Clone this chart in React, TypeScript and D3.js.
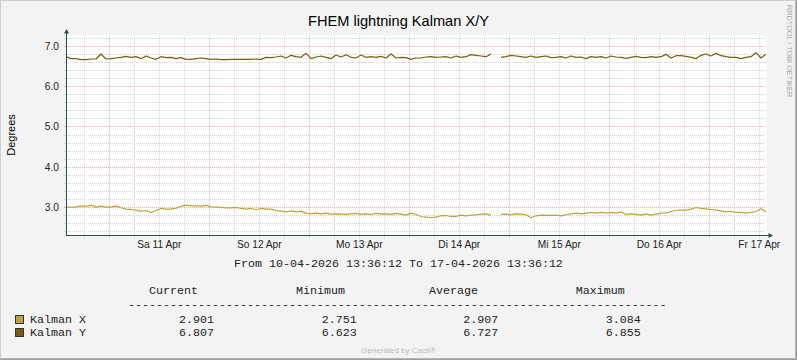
import React from "react";
import * as d3 from "d3";

// ---------- data ----------
const TITLE = "FHEM lightning Kalman X/Y";
const Y_LABEL = "Degrees";
const SERIES_NAMES = ["Kalman X", "Kalman Y"];
const SERIES_COLORS = ["#BEA33C", "#7C5C14"];
const SWATCH_COLORS = ["#B9A441", "#7A5A16"];
const START = new Date(2026, 3, 10, 13, 36, 12);
const END = new Date(2026, 3, 17, 13, 36, 12);
const STEP_MINUTES = 72;

const kalmanX = [
  3.009, 3.009, 3.009, 3.042, 3.026, 3.059, 3.009, 3.034, 3.009, 3.009,
  3.034, 2.993, 2.959, 2.951, 2.935, 2.910, 2.926, 2.877, 2.926, 2.976,
  2.959, 2.959, 2.984, 3.026, 3.059, 3.042, 3.042, 3.034, 3.051, 3.017,
  3.009, 3.001, 2.993, 2.993, 3.001, 2.976, 2.959, 2.976, 2.943, 2.976,
  2.959, 2.959, 2.926, 2.910, 2.893, 2.918, 2.893, 2.910, 2.860, 2.843,
  2.860, 2.843, 2.860, 2.835, 2.843, 2.835, 2.827, 2.843, 2.852, 2.827,
  2.843, 2.827, 2.852, 2.835, 2.843, 2.827, 2.852, 2.835, 2.810, 2.860,
  2.827, 2.777, 2.761, 2.752, 2.761, 2.794, 2.802, 2.777, 2.777, 2.810,
  2.794, 2.810, 2.819, 2.835, 2.843, 2.810, NaN, 2.827, 2.835, 2.819,
  2.843, 2.835, 2.819, 2.744, 2.794, 2.810, 2.802, 2.802, 2.810, 2.794,
  2.819, 2.843, 2.860, 2.843, 2.860, 2.877, 2.860, 2.877, 2.860, 2.877,
  2.860, 2.893, 2.827, 2.843, 2.827, 2.810, 2.843, 2.810, 2.835, 2.860,
  2.868, 2.901, 2.926, 2.935, 2.935, 2.959, 3.001, 2.976, 2.968, 2.951,
  2.935, 2.918, 2.893, 2.901, 2.877, 2.877, 2.860, 2.877, 2.901, 2.968,
  2.893,
];

const kalmanY = [
  6.747, 6.698, 6.698, 6.673, 6.673, 6.689, 6.689, 6.814, 6.689, 6.698,
  6.714, 6.731, 6.756, 6.731, 6.747, 6.698, 6.764, 6.714, 6.681, 6.747,
  6.723, 6.731, 6.698, 6.723, 6.681, 6.681, 6.698, 6.714, 6.698, 6.681,
  6.689, 6.673, 6.673, 6.681, 6.681, 6.681, 6.681, 6.681, 6.689, 6.681,
  6.731, 6.723, 6.739, 6.764, 6.714, 6.781, 6.747, 6.731, 6.830, 6.698,
  6.739, 6.764, 6.731, 6.698, 6.789, 6.739, 6.797, 6.731, 6.714, 6.789,
  6.731, 6.747, 6.731, 6.756, 6.714, 6.814, 6.714, 6.731, 6.723, 6.681,
  6.714, 6.714, 6.739, 6.747, 6.731, 6.739, 6.747, 6.714, 6.764, 6.731,
  6.747, 6.797, 6.781, 6.764, 6.747, 6.814, NaN, 6.731, 6.747, 6.781,
  6.764, 6.747, 6.731, 6.764, 6.731, 6.747, 6.764, 6.723, 6.731, 6.747,
  6.714, 6.764, 6.731, 6.739, 6.698, 6.747, 6.731, 6.747, 6.714, 6.764,
  6.739, 6.731, 6.706, 6.731, 6.756, 6.731, 6.723, 6.747, 6.731, 6.747,
  6.805, 6.714, 6.772, 6.772, 6.756, 6.731, 6.698, 6.781, 6.814, 6.764,
  6.830, 6.772, 6.747, 6.731, 6.731, 6.698, 6.731, 6.747, 6.847, 6.714,
  6.805,
];

const SERIES = [kalmanX, kalmanY];

const STAT_HEADERS = ["Current", "Minimum", "Average", "Maximum"];
const STATS_X = ["2.901", "2.751", "2.907", "3.084"];
const STATS_Y = ["6.807", "6.623", "6.727", "6.855"];
const STATS = [STATS_X, STATS_Y];

const WEEKDAYS = ["So", "Mo", "Di", "Mi", "Do", "Fr", "Sa"];
const MONTHS = ["Jan", "Feb", "Mrz", "Apr", "Mai", "Jun", "Jul", "Aug", "Sep", "Okt", "Nov", "Dez"];
const Y_DOMAIN = [2.3043, 7.2733];
const Y_MAJOR_STEP = 1;
const Y_MINOR_STEP = 0.2;
const PERIOD_TEXT = "From 10-04-2026 13:36:12 To 17-04-2026 13:36:12";
const SIDE_TEXT = "RRDTOOL / TOBI OETIKER";
const FOOTER = "Generated by Cacti®";

// ---------- layout ----------
const W = 797;
const H = 360;
const X0 = 66;
const X1 = 766;
const YT = 35.5;
const YB = 235.5;
const SANS = "'Liberation Sans', Arial, sans-serif";
const MONO = "'Liberation Mono', 'Courier New', monospace";
const AXIS = "#2C4D43";
const MINOR = "#D2D2D2";
const MAJOR = "#F2AEAE";

const crisp = (v: number) => Math.round(v - 0.5) + 0.5;

export default function App() {
  const x = d3.scaleTime().domain([START, END]).range([X0, X1]);
  const y = d3.scaleLinear().domain(Y_DOMAIN).range([YB, YT]);

  const times = kalmanX.map((_, i) => d3.timeMinute.offset(START, i * STEP_MINUTES));

  const majorY = d3.range(Math.ceil(Y_DOMAIN[0]), Y_DOMAIN[1] + 1e-9, Y_MAJOR_STEP);
  const minorY = d3
    .range(Math.ceil(Y_DOMAIN[0] / Y_MINOR_STEP) * Y_MINOR_STEP, Y_DOMAIN[1] + 1e-9, Y_MINOR_STEP)
    .map((v) => Math.round(v * 10) / 10)
    .filter((v) => Math.abs(v - Math.round(v)) > 1e-6);

  const majorX = d3.timeDay.range(START, END);
  const minorX = d3.timeHour.every(6)!.range(START, END).filter((d) => d.getHours() !== 0);
  const labelX = majorX
    .map((d) => d3.timeHour.offset(d, 12))
    .filter((d) => d <= END);

  const line = d3
    .line<number>()
    .defined((v) => !isNaN(v))
    .x((_, i) => x(times[i]))
    .y((v) => y(v));

  const headerX = [149, 296, 429, 575.7];
  const valueX = [179, 321.7, 463.3, 605.7];
  const rowY = [323, 336];

  return (
    <svg
      width={W}
      height={H}
      style={{ position: "absolute", left: 0, top: 0, display: "block" }}
      xmlns="http://www.w3.org/2000/svg"
    >
      <rect x={0} y={0} width={W} height={H} fill="#F3F3F3" />
      {/* frame */}
      <line x1={0.5} y1={0} x2={0.5} y2={H} stroke="#CFCFCF" />
      <line x1={0} y1={0.5} x2={W} y2={0.5} stroke="#CFCFCF" />
      <line x1={W - 0.5} y1={0} x2={W - 0.5} y2={H} stroke="#9E9E9E" />
      <line x1={W - 1.5} y1={1} x2={W - 1.5} y2={H} stroke="#B5B5B5" />
      <line x1={0} y1={H - 0.5} x2={W} y2={H - 0.5} stroke="#9E9E9E" />
      <line x1={1} y1={H - 1.5} x2={W} y2={H - 1.5} stroke="#B5B5B5" />

      {/* plot background */}
      <rect x={X0} y={YT - 0.5} width={X1 - X0 + 1} height={YB - YT + 0.5} fill="#FFFFFF" />

      {/* minor grid */}
      {minorY.map((v) => (
        <g key={"my" + v}>
          <line x1={X0} x2={X1} y1={crisp(y(v))} y2={crisp(y(v))} stroke={MINOR} strokeDasharray="1,1" />
          <line x1={X0 - 2} x2={X0} y1={crisp(y(v))} y2={crisp(y(v))} stroke={MINOR} />
        </g>
      ))}
      {minorX.map((d) => (
        <g key={"mx" + d.getTime()}>
          <line x1={crisp(x(d))} x2={crisp(x(d))} y1={YT} y2={YB} stroke={MINOR} strokeDasharray="1,1" />
          <line x1={crisp(x(d))} x2={crisp(x(d))} y1={YB} y2={YB + 2} stroke={MINOR} />
        </g>
      ))}
      {/* major grid */}
      {majorY.map((v) => (
        <g key={"My" + v}>
          <line x1={X0} x2={X1} y1={crisp(y(v))} y2={crisp(y(v))} stroke={MAJOR} strokeDasharray="1,1" />
          <line x1={X0 - 2} x2={X0} y1={crisp(y(v))} y2={crisp(y(v))} stroke={MAJOR} />
        </g>
      ))}
      {majorX.map((d) => (
        <g key={"Mx" + d.getTime()}>
          <line x1={crisp(x(d))} x2={crisp(x(d))} y1={YT} y2={YB} stroke={MAJOR} strokeDasharray="1,1" />
          <line x1={crisp(x(d))} x2={crisp(x(d))} y1={YB} y2={YB + 2} stroke={MAJOR} />
        </g>
      ))}

      {/* series */}
      {SERIES.map((s, k) => (
        <path key={k} d={line(s) || ""} fill="none" stroke={SERIES_COLORS[k]} strokeWidth={1.2} strokeLinejoin="round" />
      ))}

      {/* axes */}
      <line x1={X0 + 0.5} x2={X0 + 0.5} y1={YB} y2={YT - 3} stroke={AXIS} />
      <polygon points={`${X0 + 0.5},${YT - 6.5} ${X0 - 2},${YT - 2} ${X0 + 3},${YT - 2}`} fill={AXIS} />
      <line x1={X0} x2={X1 + 3} y1={YB} y2={YB} stroke={AXIS} />
      <polygon points={`${X1 + 7},${YB} ${X1 + 2.5},${YB - 2.5} ${X1 + 2.5},${YB + 2.5}`} fill={AXIS} />

      {/* y labels */}
      {majorY.map((v) => (
        <text key={"yl" + v} x={59} y={crisp(y(v)) + 3.8} textAnchor="end" fontFamily={SANS} fontSize={10.2} fill="#222">
          {v.toFixed(1)}
        </text>
      ))}
      {/* x labels */}
      {labelX.map((d) => (
        <text key={"xl" + d.getTime()} x={x(d)} y={248} textAnchor="middle" fontFamily={SANS} fontSize={10.2} fill="#222">
          {`${WEEKDAYS[d.getDay()]} ${d.getDate()} ${MONTHS[d.getMonth()]}`}
        </text>
      ))}

      {/* title */}
      <text x={398.5} y={26} textAnchor="middle" fontFamily={SANS} fontSize={14.6} fill="#000">
        {TITLE}
      </text>
      <text transform="translate(14.5,135) rotate(-90)" textAnchor="middle" fontFamily={SANS} fontSize={11} fill="#000">
        {Y_LABEL}
      </text>
      <text transform="translate(787,5) rotate(90)" textAnchor="start" fontFamily={SANS} fontSize={7.3} fill="#A8A8A8">
        {SIDE_TEXT}
      </text>

      {/* period */}
      <text x={398.5} y={267} textAnchor="middle" fontFamily={MONO} fontSize={11.67} fill="#222">
        {PERIOD_TEXT}
      </text>

      {/* legend */}
      {STAT_HEADERS.map((h, i) => (
        <text key={h} x={headerX[i]} y={293.5} fontFamily={MONO} fontSize={11.67} fill="#222">
          {h}
        </text>
      ))}
      <text x={128} y={307.5} fontFamily={MONO} fontSize={11.67} fill="#222">
        {"-".repeat(77)}
      </text>
      {SERIES_NAMES.map((n, k) => (
        <g key={n}>
          <rect x={15.5} y={rowY[k] - 7.5} width={8} height={8} fill={SWATCH_COLORS[k]} stroke="#333" />
          <text x={30} y={rowY[k]} fontFamily={MONO} fontSize={11.67} fill="#222">
            {n}
          </text>
          {STATS[k].map((v, i) => (
            <text key={i} x={valueX[i]} y={rowY[k]} fontFamily={MONO} fontSize={11.67} fill="#222">
              {v}
            </text>
          ))}
        </g>
      ))}

      <text x={398.5} y={353} textAnchor="middle" fontFamily={SANS} fontSize={8} fill="#BBBBBB">
        {FOOTER}
      </text>
    </svg>
  );
}
